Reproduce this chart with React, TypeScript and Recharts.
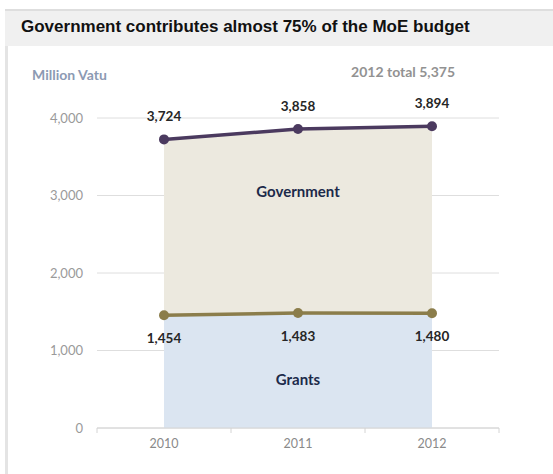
import React from "react";
import {
  ComposedChart,
  Area,
  XAxis,
  YAxis,
  CartesianGrid,
  LabelList,
  ReferenceDot
} from "recharts";

const years = ["2010", "2011", "2012"];
const government = [3724, 3858, 3894];
const grants = [1454, 1483, 1480];
const yTicks = [0, 1000, 2000, 3000, 4000];

const data = years.map((year, i) => ({
  year,
  government: government[i],
  grants: grants[i]
}));

const fmt = (v: number) => v.toLocaleString("en-US");

const labelFont = "Lato, 'Open Sans', sans-serif";

const renderYearTick = (props: any) => {
  const { x, y, payload, index } = props;
  const off = payload.offset ?? 0;
  const isLast = index === years.length - 1;
  return (
    <g>
      <path d={`M${x - off},${y - 8}v5`} stroke="#d4d4d4" />
      {isLast && <path d={`M${x + off},${y - 8}v5`} stroke="#d4d4d4" />}
      <text
        x={x}
        y={y + 12}
        textAnchor="middle"
        fill="#8a8a8a"
        fontSize={12.5}
        fontFamily={labelFont}
      >
        {payload.value}
      </text>
    </g>
  );
};

const valueLabel = (dy: number) => (props: any) => {
  const { x, y, value } = props;
  return (
    <text
      x={x}
      y={y + dy}
      textAnchor="middle"
      fill="#262626"
      fontSize={13.5}
      fontWeight="bold"
      fontFamily={labelFont}
    >
      {fmt(value)}
    </text>
  );
};

const areaLabel = (value: string) => ({
  value,
  fill: "#1c2a4a",
  fontSize: 15,
  fontWeight: "bold",
  fontFamily: labelFont
});

export default function App() {
  return (
    <div
      style={{
        position: "absolute",
        left: 0,
        top: 0,
        width: 553,
        height: 474,
        background: "#fff",
        overflow: "hidden"
      }}
    >
      {/* frame */}
      <div
        style={{
          position: "absolute",
          left: 5,
          top: 9,
          width: 3,
          height: 465,
          background: "#e4e4e4"
        }}
      />
      <div
        style={{
          position: "absolute",
          left: 5,
          top: 9,
          width: 548,
          height: 37,
          background: "#f0f0f0",
          borderTop: "2px solid #dedede",
          boxSizing: "border-box"
        }}
      />
      <div
        style={{
          position: "absolute",
          left: 21,
          top: 17,
          fontFamily: "'Liberation Sans', Arial, sans-serif",
          fontWeight: "bold",
          fontSize: 17,
          color: "#111",
          whiteSpace: "nowrap"
        }}
      >
        Government contributes almost 75% of the MoE budget
      </div>
      <div
        style={{
          position: "absolute",
          left: 32,
          top: 66,
          fontFamily: labelFont,
          fontWeight: "bold",
          fontSize: 14,
          color: "#8c9ab3",
          whiteSpace: "nowrap"
        }}
      >
        Million Vatu
      </div>
      <div
        style={{
          position: "absolute",
          right: 553 - 455,
          top: 63,
          fontFamily: labelFont,
          fontWeight: "bold",
          fontSize: 14,
          color: "#929292",
          whiteSpace: "nowrap"
        }}
      >
        2012 total 5,375
      </div>

      <div style={{ position: "absolute", left: 0, top: 0 }}>
        <ComposedChart
          width={553}
          height={474}
          data={data}
          margin={{ top: 118, right: 54, left: 0, bottom: 16 }}
        >
          <CartesianGrid vertical={false} stroke="#dedede" />
          <XAxis
            dataKey="year"
            scale="band"
            height={30}
            axisLine={{ stroke: "#d4d4d4" }}
            tickLine={false}
            interval={0}
            tick={renderYearTick}
          />
          <YAxis
            width={97}
            domain={[0, 4000]}
            ticks={yTicks}
            axisLine={false}
            tickLine={false}
            tickMargin={8}
            tickFormatter={fmt}
            tick={{ fill: "#9a9a9a", fontSize: 13, fontFamily: labelFont }}
          />
          <Area
            type="linear"
            dataKey="government"
            stroke="#4b3a5f"
            strokeWidth={3.5}
            fill="#ece9df"
            fillOpacity={1}
            dot={{ r: 5, fill: "#4b3a5f", stroke: "#4b3a5f", strokeWidth: 0 }}
            activeDot={false}
            isAnimationActive={false}
          >
            <LabelList dataKey="government" content={valueLabel(-18)} />
          </Area>
          <Area
            type="linear"
            dataKey="grants"
            stroke="#8b7d4b"
            strokeWidth={3.5}
            fill="#dbe5f1"
            fillOpacity={1}
            dot={{ r: 5, fill: "#8b7d4b", stroke: "#8b7d4b", strokeWidth: 0 }}
            activeDot={false}
            isAnimationActive={false}
          >
            <LabelList dataKey="grants" content={valueLabel(28)} />
          </Area>
          <ReferenceDot x="2011" y={3050} r={0} label={areaLabel("Government")} />
          <ReferenceDot x="2011" y={630} r={0} label={areaLabel("Grants")} />
        </ComposedChart>
      </div>
    </div>
  );
}
